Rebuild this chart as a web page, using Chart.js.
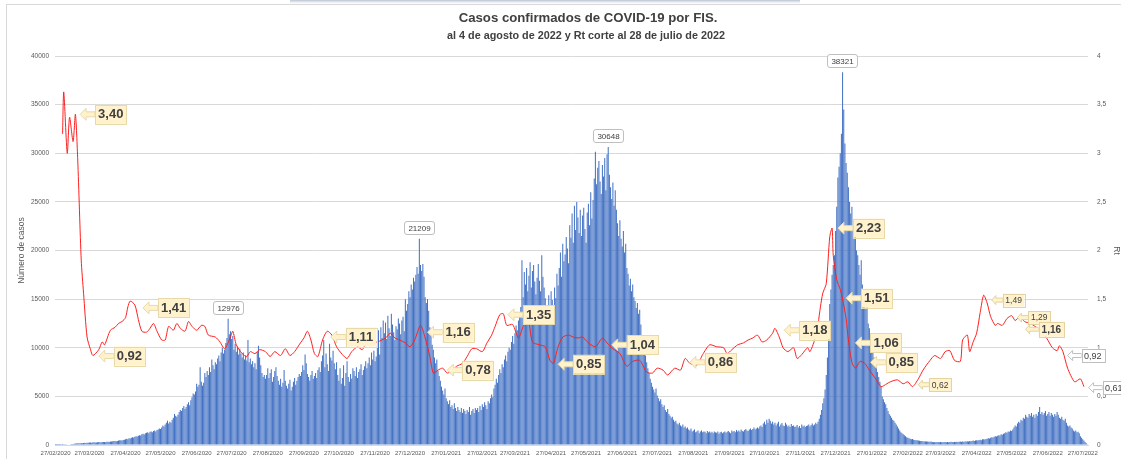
<!DOCTYPE html>
<html><head><meta charset="utf-8">
<script src="https://cdn.jsdelivr.net/npm/chart.js@4.4.0/dist/chart.umd.min.js"></script>
<style>
html,body{margin:0;padding:0;background:#fff;}
#wrap{position:relative;width:1121px;height:459px;overflow:hidden;}
canvas{display:block;}
</style></head><body>
<div id="wrap"><canvas id="c" width="1121" height="459"></canvas></div>
<script>
// ---------- DATA ----------
const startDate = [2020, 2, 27]; // 27/02/2020, first category
// Daily confirmed cases by FIS
const cases2020a = [3,5,4,8,10,15,12,20,25,30,40,55,60,80,95,110,130,150,160,170,180,190,200,180,210,220,200,230,
240,260,250,230,270,280,260,250,290,300,280,270,310,320,300,290,330,340,320,350,360,380,400,420,390,410,450,480,500,470,520,
550,600,650,580,700,680,750,800,760,850,900,870,950,1000,980,1100,1150,1080,1200,1250,1300,1200,1350,1400,1300,1450,1500,1400,1550,
1600,1700,1650,1800,2000,1900,2100,2300,2500,2200,2400,2300,2600,2800,3200,3000,2900,3100,3400,3600,3500,3800,4000,3700,3900,4200,4400,4100,4600,4900,5300,
5200,5500,6300,6000,6200,8000,6500,6100,6400,7400,7000,7600,7200,8000,7500,8800,8200,7800,8500,8300,8900,9200,8600,9500,10000,9400,9800,10500,11000,12976];
const cases2020b = [11400,11700,10900,11200,9800,10400,9600,10100,9300,9900,9400,9000,9500,8800,9200,8700,10800,8500,8900,8300,8600,8000,8400,7800,9600,10200,9000,8200,7400,7000,7200,
6800,7200,7900,6900,7400,7800,6500,7000,7600,8000,7100,6600,6200,6800,6000,6400,7700,6600,6100,5800,6300,6700,5600,6000,6500,6900,6200,6600,7000,7300,
7100,7500,8200,7700,9300,8400,7300,7000,6600,7200,7600,6800,7100,7400,6900,7700,8000,7500,8600,9200,10800,8000,9400,8300,7600,10400,9000,8700,9700,8400,
7800,8500,7200,6600,7900,6300,6900,8200,6100,7400,8600,7000,6500,7300,6800,7900,7600,7100,8000,6900,7500,7800,8300,7200,7700,8100,8600,7900,8400,9000,8200,
9500,8800,9700,8600,9100,10200,11800,9300,12100,11000,12800,11500,12600,10900,13300,12000,11200,13500,12400,11600,10800,12200,11900,13000,12500,11400,12800,13200,11700,15000];
const cases2021a = [13800,14500,15800,15200,16500,16000,17200,16800,17500,18300,17600,21209,18500,17900,18600,17300,15200,14600,15000,13800,12100,11800,10300,9800,9000,8400,8800,7600,7100,6600,
6000,5600,5200,5800,4800,4500,4200,4600,3900,4100,3700,4300,3800,3500,3900,3600,3400,3800,3300,3700,3500,3200,3600,3400,3900,3100,3500,3700,3300,3800,3600,
3800,3400,4000,3600,4200,3900,4400,4100,3700,4500,4300,4800,5200,4900,5800,6200,6800,6400,7200,7800,7400,8300,8000,8800,9200,8600,9600,10000,
9800,10600,11200,10400,11500,12300,11800,12800,13500,14200,19000,15200,17800,16500,18200,15800,17400,18800,16200,17900,18500,16800,15500,17200,18600,16900,15800,19500,17300,16200,15100,
14200,13600,15400,12800,15800,14900,13700,16200,15100,17600,16400,18200,19800,17300,20700,18900,19600,21400,20200,18700,22600,21300,23800,20800,24600,22100,25000,23400,21800,24200];
const cases2021b = [21500,23600,24400,22200,20800,23900,24800,22600,26000,23300,25200,27400,30150,26800,28500,29200,27100,25800,28800,27600,29500,26200,29900,30648,27800,26500,25300,27000,24600,26200,
24200,22800,21500,23100,21200,20400,22000,19800,20700,18200,17600,16400,17100,15800,16500,15200,14800,14100,14600,13500,13900,12400,11200,10300,9800,9200,8500,7900,7400,6800,
6400,6000,5700,5400,5800,5100,4800,4500,4700,4200,3900,4100,3600,3400,3700,3200,3000,2800,2900,2600,2400,2500,2200,2100,2300,2000,1900,2100,1800,1900,1700,
1800,1600,1500,1700,1400,1500,1600,1300,1400,1500,1200,1400,1500,1300,1400,1350,1200,1450,1300,1400,1250,1350,1200,1400,1300,1250,1400,1150,1300,1350,1200,
1300,1400,1250,1350,1450,1300,1200,1500,1350,1450,1300,1550,1400,1500,1350,1600,1450,1400,1550,1650,1500,1450,1600,1700,1550,1650,1800,1600,1700];
const cases2021c = [1800,1700,1900,2000,1850,2200,2400,2100,2600,2300,2700,2500,2200,2400,2100,2300,2000,2200,2400,1900,2100,2250,2000,1950,2300,2100,1900,2000,1850,2150,1950,
2000,1850,1900,2050,1800,1950,1750,2100,1900,2000,1850,1950,2000,2100,1900,2050,2200,2000,2100,2300,2150,2400,2700,3100,3600,4300,4800,5700,7200,9000,
11500,14500,16000,17500,18500,19500,22000,24500,27500,28600,30000,32000,38321,34500,31000,29000,28000,26500,25000,23800,24500,22000,21500,22500,20000,19500,18500,17500,19000,16500,15500];
const cases2022 = [15000,14000,14500,12500,12000,11000,10500,9500,9000,8500,8000,7500,7000,6500,6000,5000,4700,4400,4200,3800,3500,3200,3000,2800,2600,2500,2300,2100,1900,1700,
1500,1300,1200,1100,1000,900,800,750,700,650,600,620,550,520,500,480,450,430,400,420,380,360,390,350,370,340,330,350,
300,280,310,290,320,300,280,310,290,270,300,320,290,310,280,300,330,310,290,320,300,340,310,330,350,320,360,340,370,350,380,
360,400,380,420,450,410,470,500,460,520,550,500,580,600,560,620,650,700,680,750,800,760,850,900,870,950,1000,980,1100,1050,
1150,1200,1300,1250,1400,1350,1500,1450,1600,1800,2000,1900,2200,2400,2300,2600,2500,2800,2700,3100,2900,2800,3200,3000,3300,
2900,3100,2800,3200,3000,3400,3900,3200,3400,3100,3300,3500,3000,3200,3400,3000,3300,3100,2900,3200,3000,3400,3100,2800,2700,2900,2600,2500,2700,2300,2000,1900,2000,1800,1700,1500,1400,1500,1300,1350,1200,900,750,600,450,300,180,80];

// Rt (day number since 27/02/2020, value)
const rtSeries = [[6,3.20],[7,3.63],[10,3.00],[12,3.37],[15,3.12],[17,3.40],[19,2.93],[22,1.90],[24,1.56],[27,1.11],[30,0.98],[32,0.92],[37,0.98],[40,1.06],[42,1.03],[47,1.18],[51,1.21],[54,1.25],[57,1.27],[60,1.31],[62,1.42],[64,1.48],[68,1.44],[71,1.29],[74,1.17],[78,1.16],[81,1.20],[84,1.25],[87,1.17],[91,1.08],[94,1.08],[97,1.22],[101,1.18],[104,1.25],[107,1.20],[111,1.17],[114,1.27],[117,1.22],[121,1.18],[125,1.23],[128,1.22],[131,1.13],[137,1.11],[141,1.06],[145,0.99],[150,1.11],[152,1.17],[155,1.03],[160,0.94],[164,0.91],[167,0.96],[171,0.94],[175,0.98],[180,0.96],[184,0.91],[188,0.96],[193,0.92],[197,0.99],[201,0.92],[205,0.96],[210,1.05],[213,1.10],[216,1.17],[219,1.08],[222,0.94],[225,0.91],[229,1.08],[233,1.17],[237,1.13],[241,1.01],[246,0.93],[250,0.89],[254,0.96],[259,1.01],[263,0.98],[267,1.06],[271,1.05],[276,1.06],[280,1.08],[284,1.11],[287,1.15],[291,1.10],[295,1.08],[300,1.05],[304,1.01],[308,1.08],[313,1.23],[317,1.10],[321,0.91],[324,0.74],[328,0.77],[332,0.79],[336,0.74],[340,0.77],[344,0.81],[349,0.84],[353,0.91],[357,0.99],[361,0.99],[366,0.96],[370,1.05],[374,1.13],[377,1.22],[381,1.34],[384,1.35],[387,1.23],[392,1.24],[397,1.10],[401,1.22],[405,1.32],[409,1.06],[415,1.03],[420,1.01],[424,0.87],[427,0.84],[431,1.01],[435,1.11],[440,1.13],[444,1.11],[448,1.10],[452,1.11],[457,1.05],[463,1.01],[469,1.10],[473,1.05],[478,0.99],[484,0.94],[490,0.81],[495,0.86],[501,0.87],[507,0.75],[512,0.74],[516,0.79],[521,0.77],[525,0.72],[531,0.79],[536,0.77],[540,0.89],[544,0.84],[550,0.82],[555,0.93],[561,1.03],[567,1.01],[573,1.00],[576,0.94],[580,0.98],[585,1.03],[590,1.05],[594,1.08],[598,1.10],[602,1.13],[606,1.06],[610,1.08],[615,1.15],[617,1.20],[621,1.10],[624,1.00],[628,0.96],[633,1.00],[636,0.89],[640,0.93],[645,1.00],[647,0.96],[651,1.08],[654,1.25],[656,1.42],[658,1.56],[661,1.66],[664,2.14],[666,2.23],[667,1.95],[670,1.70],[673,1.60],[675,1.50],[678,1.30],[680,1.08],[683,0.85],[686,0.79],[690,0.86],[694,0.84],[698,0.77],[704,0.67],[708,0.60],[713,0.63],[716,0.65],[722,0.67],[727,0.63],[731,0.65],[735,0.60],[740,0.68],[744,0.77],[750,0.87],[754,0.92],[759,0.89],[763,0.96],[767,0.97],[771,0.87],[776,0.86],[778,1.08],[782,1.13],[784,0.96],[787,1.06],[790,1.15],[793,1.36],[796,1.54],[799,1.46],[802,1.32],[806,1.23],[808,1.25],[812,1.23],[816,1.30],[820,1.33],[823,1.28],[827,1.32],[831,1.27],[836,1.25],[840,1.22],[846,1.17],[850,1.10],[855,1.00],[859,0.97],[861,1.02],[864,0.96],[868,0.79],[874,0.65],[879,0.68],[882,0.60]];

// Rt callouts: day, anchor Rt, text, style
const rtCallouts = [
  [21,3.40,'3,40','big'],[75,1.41,'1,41','big'],[37,0.915,'0,92','big'],[236,1.11,'1,11','big'],
  [319,1.16,'1,16','big'],[336,0.77,'0,78','big'],[388,1.34,'1,35','big'],[431,0.83,'0,85','big'],
  [477,1.03,'1,04','big'],[544,0.85,'0,86','big'],[625,1.18,'1,18','big'],[671,2.23,'2,23','big'],
  [678,1.51,'1,51','big'],[686,1.05,'1,06','big'],[699,0.85,'0,85','big'],[740,0.62,'0,62','small'],
  [803,1.49,'1,49','small'],[825,1.31,'1,29','small'],[832,1.19,'1,16','smallBold'],
  [868,0.92,'0,92','white'],[886,0.59,'0,61','white']
];
const peakValues = [12976, 21209, 30648, 38321];

const titleLines = ['Casos confirmados de COVID-19 por FIS.', 'al 4 de agosto de 2022 y Rt corte al 28 de julio de 2022'];
const leftTitle = 'Número de casos';
const rightTitle = 'Rt';

// ---------- BUILD ----------
const cases = [].concat(cases2020a, cases2020b, cases2021a, cases2021b, cases2021c, cases2022);
const labels = [];
{
  const d0 = new Date(startDate[0], startDate[1]-1, startDate[2], 12);
  for (let i = 0; i < cases.length; i++) {
    const d = new Date(d0.getTime() + i*86400000);
    const dd = String(d.getDate()).padStart(2,'0'), mm = String(d.getMonth()+1).padStart(2,'0');
    labels.push(dd + '/' + mm + '/' + d.getFullYear());
  }
}
const rtData = rtSeries.map(p => ({x: labels[p[0]], y: p[1]}));

const FONT = '"Liberation Sans", Arial, sans-serif';

function calloutShape(ctx, tipX, tipY, text, st) {
  const S = {
    big:   {font:'bold 13px '+FONT, gap:15, head:6, headH:6, shaft:2.5, padX:3, boxH:19, fill:'#fff2cc', stroke:'#e8d9a8', tc:'#404040'},
    small: {font:'8.5px '+FONT, gap:11, head:4, headH:4.5, shaft:2, padX:2.5, boxH:13, fill:'#fff2cc', stroke:'#e2d3a0', tc:'#404040'},
    smallBold: {font:'bold 10px '+FONT, gap:13, head:4, headH:4.5, shaft:2, padX:3, boxH:15, fill:'#fff2cc', stroke:'#e2d3a0', tc:'#404040'},
    white: {font:'9px '+FONT, gap:14, head:5, headH:5, shaft:2, padX:2.5, boxH:13, fill:'#ffffff', stroke:'#bfbfbf', tc:'#404040'}
  }[st];
  ctx.save();
  ctx.font = S.font;
  const tw = ctx.measureText(text).width;
  const bx = tipX + S.gap, bw = tw + 2*S.padX, by = tipY - S.boxH/2;
  ctx.beginPath();
  ctx.moveTo(tipX, tipY);
  ctx.lineTo(tipX + S.head, tipY - S.headH);
  ctx.lineTo(tipX + S.head, tipY - S.shaft);
  ctx.lineTo(bx, tipY - S.shaft);
  ctx.lineTo(bx, tipY + S.shaft);
  ctx.lineTo(tipX + S.head, tipY + S.shaft);
  ctx.lineTo(tipX + S.head, tipY + S.headH);
  ctx.closePath();
  ctx.fillStyle = S.fill; ctx.fill();
  ctx.strokeStyle = S.stroke; ctx.lineWidth = 1; ctx.stroke();
  ctx.fillStyle = S.fill;
  ctx.fillRect(bx, by, bw, S.boxH);
  ctx.strokeRect(Math.round(bx)+0.5, Math.round(by)+0.5, Math.round(bw), Math.round(S.boxH));
  ctx.fillStyle = S.tc; ctx.textAlign = 'center'; ctx.textBaseline = 'middle';
  ctx.fillText(text, bx + bw/2, tipY + 0.5);
  ctx.restore();
}

function roundRect(ctx, x, y, w, h, r) {
  ctx.beginPath();
  ctx.moveTo(x+r, y); ctx.lineTo(x+w-r, y); ctx.quadraticCurveTo(x+w, y, x+w, y+r);
  ctx.lineTo(x+w, y+h-r); ctx.quadraticCurveTo(x+w, y+h, x+w-r, y+h);
  ctx.lineTo(x+r, y+h); ctx.quadraticCurveTo(x, y+h, x, y+h-r);
  ctx.lineTo(x, y+r); ctx.quadraticCurveTo(x, y, x+r, y); ctx.closePath();
}

const decorPlugin = {
  id: 'decor',
  beforeDraw(chart) {
    const ctx = chart.ctx;
    ctx.save();
    ctx.fillStyle = '#fff'; ctx.fillRect(0, 0, chart.width, chart.height);
    const g = ctx.createLinearGradient(0, 0, 0, 4);
    g.addColorStop(0, '#b9c3d3'); g.addColorStop(1, 'rgba(220,226,236,0)');
    ctx.fillStyle = g; ctx.fillRect(290, 0, 510, 4);
    ctx.strokeStyle = '#d9d9d9'; ctx.lineWidth = 1;
    ctx.strokeRect(6.5, 4.5, 1125, 470);
    ctx.fillStyle = '#404040'; ctx.textAlign = 'center'; ctx.textBaseline = 'middle';
    ctx.font = 'bold 13.2px ' + FONT;
    ctx.fillText(titleLines[0], 588, 18);
    ctx.font = 'bold 10.8px ' + FONT;
    ctx.fillText(titleLines[1], 586, 36);
    ctx.restore();
  },
  afterDatasetsDraw(chart) {
    const ctx = chart.ctx, xs = chart.scales.x, y = chart.scales.y, y1 = chart.scales.y1;
    peakValues.forEach(v => {
      const i = cases.indexOf(v);
      const px = xs.getPixelForValue(i), py = y.getPixelForValue(v);
      ctx.save();
      ctx.font = '8px ' + FONT;
      const tw = ctx.measureText(String(v)).width;
      const w = tw + 8, h = 13;
      const bx = Math.round(px - w/2) + 0.5, by = Math.round(py - 5 - h) + 0.5;
      roundRect(ctx, bx, by, Math.round(w), h, 2.5);
      ctx.fillStyle = '#fff'; ctx.fill();
      ctx.strokeStyle = '#bfbfbf'; ctx.lineWidth = 1; ctx.stroke();
      ctx.fillStyle = '#404040'; ctx.textAlign = 'center'; ctx.textBaseline = 'middle';
      ctx.fillText(String(v), bx + Math.round(w)/2, by + h/2 + 0.5);
      ctx.restore();
    });
    rtCallouts.forEach(c => {
      calloutShape(ctx, xs.getPixelForValue(c[0]), y1.getPixelForValue(c[1]), c[2], c[3]);
    });
  }
};

new Chart(document.getElementById('c'), {
  data: {
    labels: labels,
    datasets: [
      { type: 'line', label: 'Rt', data: rtData, yAxisID: 'y1', borderColor: '#ff2020', borderWidth: 1,
        pointRadius: 0, tension: 0.25, spanGaps: true, order: 0 },
      { type: 'bar', label: 'Casos', data: cases, yAxisID: 'y', backgroundColor: '#4472c4',
        borderWidth: 0, barPercentage: 0.88, categoryPercentage: 1.0, order: 1 }
    ]
  },
  options: {
    responsive: false, animation: false, devicePixelRatio: 1,
    layout: { padding: { top: 56, left: 0, right: 0, bottom: 0 } },
    plugins: { legend: { display: false }, tooltip: { enabled: false }, title: { display: false } },
    scales: {
      x: {
        offset: true,
        grid: { display: false, drawTicks: false },
        border: { display: true, color: '#d9d9d9' },
        ticks: {
          autoSkip: false, maxRotation: 0, minRotation: 0, padding: 5,
          color: '#595959', font: { size: 6, family: FONT },
          callback: function(v, i) { const l = labels[i]; return l && l.startsWith('27/') ? l : ''; }
        },
        afterFit(s) { s.height = 14; }
      },
      y: {
        position: 'left', min: 0, max: 40000,
        grid: { color: '#d9d9d9', drawTicks: false },
        border: { display: false },
        ticks: { stepSize: 5000, padding: 6, color: '#595959', font: { size: 6.5, family: FONT },
          callback: v => String(v) },
        title: { display: true, text: leftTitle, color: '#595959', font: { size: 8.5, family: FONT }, padding: { top: 17, bottom: 0 } },
        afterFit(s) { s.width = 55; }
      },
      y1: {
        position: 'right', min: 0, max: 4,
        grid: { display: false, drawTicks: false },
        border: { display: false },
        ticks: { stepSize: 0.5, padding: 9, color: '#595959', font: { size: 6.5, family: FONT },
          callback: v => String(v).replace('.', ',') },
        title: { display: true, text: rightTitle, color: '#595959', font: { size: 8.5, family: FONT }, padding: { top: 0, bottom: 1 } },
        afterFit(s) { s.width = 33; }
      }
    }
  },
  plugins: [decorPlugin]
});
</script>
</body></html>
